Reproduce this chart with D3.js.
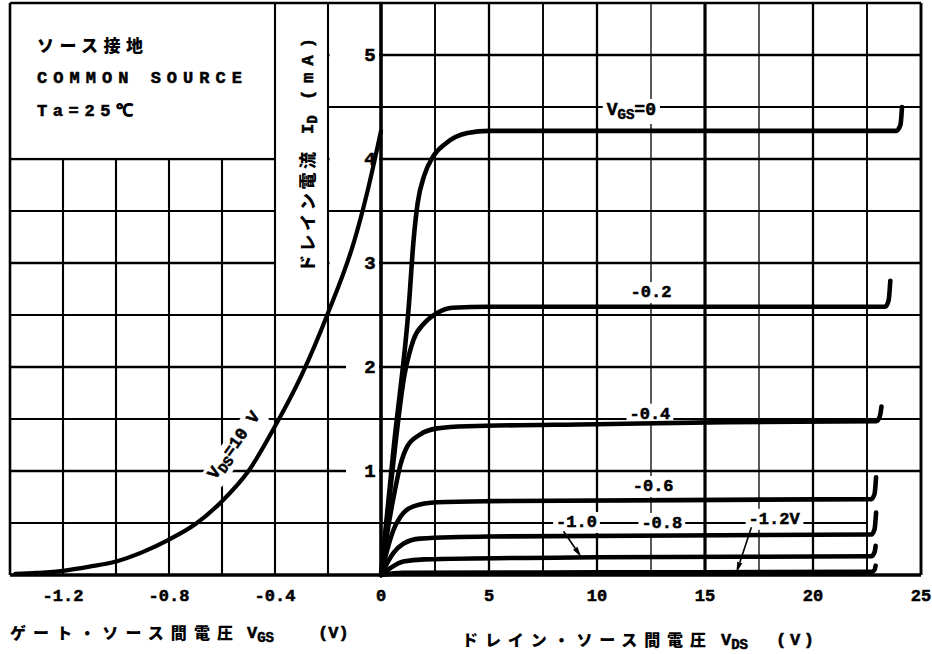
<!DOCTYPE html>
<html>
<head>
<meta charset="utf-8">
<script src="https://cdn.jsdelivr.net/npm/d3@7"></script>
<style>
  body { margin: 0; background: #fff; }
  svg { display: block; }
  .mono { font-family: 'Liberation Mono', 'DejaVu Sans Mono', monospace; font-weight: bold; stroke: #000; stroke-width: 0.55px; }
  .jp { font-family: 'Noto Sans CJK JP', sans-serif; font-weight: 900; }
</style>
</head>
<body>
<div id="chart"></div>
<script>
// transfer curve, V_DS = 10 V (left panel)
const transferVgs = [-1.38, -1.3, -1.2, -1.1, -1.0, -0.9, -0.8, -0.7, -0.6, -0.5, -0.4, -0.3, -0.2, -0.1, -0.05, 0]
const transferId = [0.01, 0.02, 0.04, 0.08, 0.13, 0.22, 0.34, 0.49, 0.71, 1.0, 1.43, 1.92, 2.52, 3.22, 3.70, 4.27]

// output curves [V_DS, I_D] (right panel), one per V_GS
const vgsLevels = [0, -0.2, -0.4, -0.6, -0.8, -1.0, -1.2]
const idVgs0 = [[0, 0], [0.6, 1.25], [1.3, 2.62], [1.5, 3.2], [1.7, 3.58], [2.0, 3.84], [2.4, 4.02], [3.0, 4.15], [4.0, 4.25], [5, 4.27], [15, 4.27], [23.85, 4.27], [24.05, 4.33], [24.12, 4.5]]
const idVgsM02 = [[0, 0], [0.5, 0.95], [1.1, 1.94], [1.3, 2.12], [1.5, 2.26], [2.0, 2.42], [2.6, 2.52], [3.3, 2.57], [5, 2.58], [15, 2.58], [23.35, 2.58], [23.5, 2.64], [23.58, 2.83]]
const idVgsM04 = [[0, 0], [0.3, 0.42], [0.65, 0.82], [0.9, 1.06], [1.2, 1.23], [1.8, 1.35], [2.6, 1.41], [4, 1.43], [10, 1.45], [16, 1.47], [22.95, 1.48], [23.1, 1.53], [23.17, 1.62]]
const idVgsM06 = [[0, 0], [0.3, 0.25], [0.57, 0.43], [0.9, 0.56], [1.5, 0.66], [2.6, 0.7], [5, 0.71], [22.7, 0.73], [22.85, 0.78], [22.92, 0.94]]
const idVgsM08 = [[0, 0], [0.3, 0.12], [0.57, 0.21], [1.03, 0.3], [1.8, 0.35], [5, 0.37], [22.7, 0.39], [22.85, 0.44], [22.92, 0.6]]
const idVgsM10 = [[0, 0], [0.42, 0.065], [1.03, 0.13], [2, 0.15], [10, 0.17], [22.7, 0.18], [22.85, 0.22], [22.9, 0.28]]
const idVgsM12 = [[0, 0], [1, 0.02], [10, 0.025], [22.7, 0.03], [22.85, 0.05], [22.9, 0.09]]
const outputCurves = [idVgs0, idVgsM02, idVgsM04, idVgsM06, idVgsM08, idVgsM10, idVgsM12]

// ticks
const vgsTicks = [-1.2, -0.8, -0.4, 0]
const vgsTickLabels = ['-1.2', '-0.8', '-0.4', '0']
const vdsTicks = [5, 10, 15, 20, 25]
const idTicks = [1, 2, 3, 4, 5]

const width = 932
const height = 654

const svg = d3.select('#chart').append('svg')
  .attr('width', width).attr('height', height)
  .style('background', '#fff')

const xg = d3.scaleLinear().domain([-1.4, 0]).range([10, 381])
const xd = d3.scaleLinear().domain([0, 25]).range([381, 921])
const y = d3.scaleLinear().domain([0, 5.5]).range([575, 3])

const ink = '#000'

// horizontal grid
const hLevels = d3.range(1, 11).map(i => i * 0.5)
svg.append('g').selectAll('line').data(hLevels).join('line')
  .attr('x1', xg(-1.4))
  .attr('x2', d => (d === 0.5 ? xd(22.5) : xd(25)))
  .attr('y1', d => y(d)).attr('y2', d => y(d))
  .attr('stroke', ink)
  .attr('stroke-width', d => (Number.isInteger(d) ? 2.3 : 1.9))

// white areas: note box, y title column, y tick labels
const masks = svg.append('g').attr('fill', '#fff')
masks.append('rect')
  .attr('x', xg(-1.4) + 1).attr('y', y(5.5))
  .attr('width', xg(-0.4) - xg(-1.4) - 1)
  .attr('height', y(4) - y(5.5) - 1.3)
masks.append('rect')
  .attr('x', xg(-0.4)).attr('y', y(5.5))
  .attr('width', xg(-0.2) - xg(-0.4))
  .attr('height', y(2.75) - y(5.5))
idTicks.forEach(t => {
  const left = y(t) < y(2.75) ? xg(-0.2) + 1.5 : 346
  masks.append('rect')
    .attr('x', left).attr('y', y(t) - 9)
    .attr('width', xd(0) - 2 - left).attr('height', 18)
})

// vertical grid
const vgsGrid = d3.range(1, 7).map(i => -1.4 + 0.2 * i)
svg.append('g').selectAll('line').data(vgsGrid).join('line')
  .attr('x1', d => xg(d)).attr('x2', d => xg(d))
  .attr('y1', d => (d < -0.5 ? y(4) : y(5.5))).attr('y2', y(0))
  .attr('stroke', ink).attr('stroke-width', 2.1)

const vdsGrid = d3.range(1, 10).map(i => i * 2.5)
svg.append('g').selectAll('line').data(vdsGrid).join('line')
  .attr('x1', d => xd(d)).attr('x2', d => xd(d))
  .attr('y1', y(5.5)).attr('y2', y(0))
  .attr('stroke', ink)
  .attr('stroke-width', d => (d === 15 ? 3.2 : d % 5 === 0 ? 2.3 : d === 12.5 || d === 17.5 ? 1.3 : 1.9))

// labels with a white backing box
function boxedLabel(parent, build, pad) {
  const g = parent.append('g')
  const t = build(g)
  const b = t.node().getBBox()
  g.insert('rect', 'text')
    .attr('x', b.x - pad).attr('y', b.y - 1)
    .attr('width', b.width + pad * 2).attr('height', b.height + 2)
    .attr('fill', '#fff')
  return g
}

const ann = svg.append('g')

// V_GS = 0 label
boxedLabel(ann, g => {
  const t = g.append('text').attr('class', 'mono')
    .attr('x', xd(10.45)).attr('y', y(4.5) + 8)
    .attr('font-size', 18)
  t.append('tspan').text('V')
  t.append('tspan').attr('font-size', 14).attr('dy', 4).text('GS')
  t.append('tspan').attr('dy', -4).text('=0')
  return t
}, 4)

const curveLabels = [
  { text: '-0.2', vds: 12.5, id: 2.73 },
  { text: '-0.4', vds: 12.45, id: 1.56 },
  { text: '-0.6', vds: 12.6, id: 0.865 },
  { text: '-1.0', vds: 9.05, id: 0.52 },
  { text: '-0.8', vds: 13.0, id: 0.51 },
  { text: '-1.2V', vds: 18.2, id: 0.55 },
]
curveLabels.forEach(l => {
  boxedLabel(ann, g => g.append('text').attr('class', 'mono')
    .attr('x', xd(l.vds)).attr('y', y(l.id) + 6)
    .attr('text-anchor', 'middle').attr('font-size', 17)
    .text(l.text), 3)
})

// pointer arrows for -1.0 and -1.2V
const arrows = [
  { from: [8.45, 0.42], to: [9.28, 0.17] },
  { from: [17.15, 0.46], to: [16.45, 0.02] },
]
arrows.forEach(a => {
  const x1 = xd(a.from[0]), y1 = y(a.from[1])
  const x2 = xd(a.to[0]), y2 = y(a.to[1])
  const ang = Math.atan2(y2 - y1, x2 - x1)
  const len = 11, w = 2.6
  const bx = x2 - len * Math.cos(ang), by = y2 - len * Math.sin(ang)
  ann.append('line')
    .attr('x1', x1).attr('y1', y1).attr('x2', bx).attr('y2', by)
    .attr('stroke', ink).attr('stroke-width', 1.6)
  ann.append('path')
    .attr('d', `M${x2},${y2} L${bx + w * Math.sin(ang)},${by - w * Math.cos(ang)} L${bx - w * Math.sin(ang)},${by + w * Math.cos(ang)} Z`)
    .attr('fill', ink)
})

// V_DS = 10 V label along transfer curve
const vdsLabel = ann.append('g')
  .attr('transform', `translate(${xg(-0.54)},${y(1.22)}) rotate(-55)`)
boxedLabel(vdsLabel, g => {
  const t = g.append('text').attr('class', 'mono')
    .attr('x', 0).attr('y', 0).attr('text-anchor', 'middle')
    .attr('font-size', 17)
  t.append('tspan').text('V')
  t.append('tspan').attr('font-size', 14).attr('dy', 4).text('DS')
  t.append('tspan').attr('dy', -4).text('=10 V')
  return t
}, 2)

// curves
const outLine = d3.line()
  .x(d => xd(d[0])).y(d => y(d[1]))
  .curve(d3.curveMonotoneX)
svg.append('g').selectAll('path').data(outputCurves).join('path')
  .attr('d', outLine)
  .attr('fill', 'none').attr('stroke', ink)
  .attr('stroke-width', 4.6).attr('stroke-linejoin', 'round').attr('stroke-linecap', 'round')

const transferLine = d3.line()
  .x(d => xg(d[0])).y(d => y(d[1]))
  .curve(d3.curveMonotoneX)
svg.append('path')
  .datum(d3.zip(transferVgs, transferId))
  .attr('d', transferLine)
  .attr('fill', 'none').attr('stroke', ink)
  .attr('stroke-width', 4.2).attr('stroke-linecap', 'round')

// axes and frame
const frame = svg.append('g').attr('stroke', ink)
frame.append('line').attr('x1', xg(-1.4)).attr('x2', xd(25)).attr('y1', y(0)).attr('y2', y(0)).attr('stroke-width', 3.6)
frame.append('line').attr('x1', xd(0)).attr('x2', xd(0)).attr('y1', y(5.5)).attr('y2', y(0)).attr('stroke-width', 3.6)
frame.append('line').attr('x1', xg(-1.4)).attr('x2', xd(25)).attr('y1', y(5.5)).attr('y2', y(5.5)).attr('stroke-width', 2.6)
frame.append('line').attr('x1', xg(-1.4)).attr('x2', xg(-1.4)).attr('y1', y(5.5)).attr('y2', y(0)).attr('stroke-width', 2.6)
frame.append('line').attr('x1', xd(25)).attr('x2', xd(25)).attr('y1', y(5.5)).attr('y2', y(0)).attr('stroke-width', 2.9)

// tick labels
const ticks = svg.append('g').attr('fill', ink)
ticks.selectAll('text.vgs').data(vgsTicks).join('text')
  .attr('class', 'mono')
  .attr('font-size', 17)
  .attr('x', d => xg(d)).attr('y', 601).attr('text-anchor', 'middle')
  .text((d, i) => vgsTickLabels[i])
ticks.selectAll('text.vds').data(vdsTicks).join('text')
  .attr('class', 'mono')
  .attr('font-size', 17)
  .attr('x', d => xd(d)).attr('y', 601).attr('text-anchor', 'middle')
  .text(d => d)
ticks.selectAll('text.id').data(idTicks).join('text')
  .attr('class', 'mono')
  .attr('x', 370).attr('y', d => y(d) + 6).attr('text-anchor', 'middle')
  .attr('font-size', 19)
  .text(d => d)

// note box text
const note = svg.append('g').attr('fill', ink)
note.append('text').attr('class', 'jp').attr('x', 37).attr('y', 52)
  .attr('font-size', 17).attr('textLength', 106).attr('lengthAdjust', 'spacing')
  .text('ソース接地')
note.append('text').attr('class', 'mono').attr('x', 37).attr('y', 83)
  .attr('font-size', 17).attr('textLength', 205).attr('lengthAdjust', 'spacing')
  .text('COMMON SOURCE')
note.append('text').attr('class', 'mono').attr('x', 37).attr('y', 116)
  .attr('font-size', 17).attr('textLength', 96).attr('lengthAdjust', 'spacing')
  .text('Ta=25℃')

// y axis title (reads bottom to top)
const yTitle = svg.append('g').attr('transform', 'translate(314,272) rotate(-90)').attr('fill', ink)
yTitle.append('text').attr('class', 'jp').attr('x', 0).attr('y', 0)
  .attr('font-size', 17).attr('textLength', 120).attr('lengthAdjust', 'spacing')
  .text('ドレイン電流')
const yt = yTitle.append('text').attr('class', 'mono').attr('x', 138).attr('y', -1).attr('font-size', 17)
yt.append('tspan').text('I')
yt.append('tspan').attr('font-size', 14).attr('dy', 4).text('D')
yTitle.append('text').attr('class', 'mono').attr('x', 172).attr('y', -1)
  .attr('font-size', 17).attr('textLength', 62).attr('lengthAdjust', 'spacing')
  .text('(mA)')

// x axis titles
const xt = svg.append('g').attr('fill', ink)
xt.append('text').attr('class', 'jp').attr('x', 10).attr('y', 639)
  .attr('font-size', 16).attr('textLength', 223).attr('lengthAdjust', 'spacing')
  .text('ゲート・ソース間電圧')
const lv = xt.append('text').attr('class', 'mono').attr('x', 247).attr('y', 638).attr('font-size', 17)
lv.append('tspan').text('V')
lv.append('tspan').attr('font-size', 14).attr('dy', 4).text('GS')
xt.append('text').attr('class', 'mono').attr('x', 318).attr('y', 638).attr('font-size', 17).text('(V)')

xt.append('text').attr('class', 'jp').attr('x', 462).attr('y', 646)
  .attr('font-size', 16).attr('textLength', 244).attr('lengthAdjust', 'spacing')
  .text('ドレイン・ソース間電圧')
const rv = xt.append('text').attr('class', 'mono').attr('x', 721).attr('y', 645).attr('font-size', 17)
rv.append('tspan').text('V')
rv.append('tspan').attr('font-size', 14).attr('dy', 4).text('DS')
xt.append('text').attr('class', 'mono').attr('x', 776).attr('y', 645)
  .attr('font-size', 17).attr('textLength', 38).attr('lengthAdjust', 'spacing')
  .text('(V)')
</script>
</body>
</html>
